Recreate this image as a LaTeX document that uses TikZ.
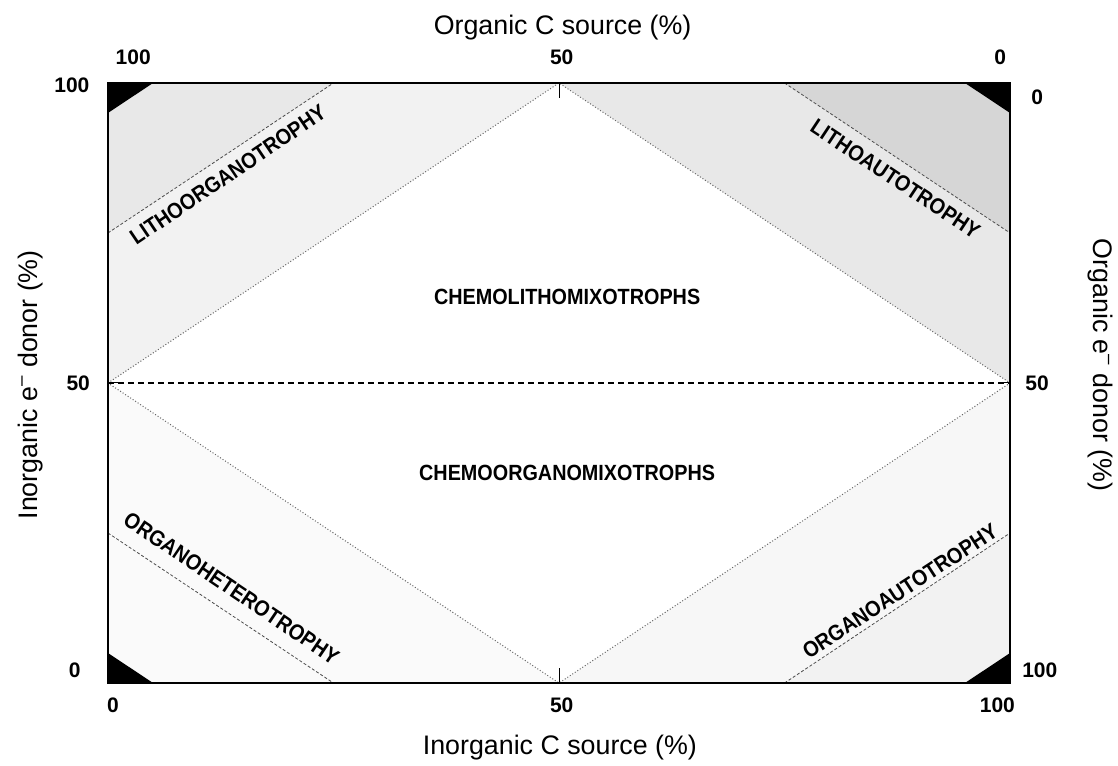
\documentclass[tikz,border=0pt]{standalone}
\usepackage{fontspec}
\setmainfont{Liberation Sans}
\usetikzlibrary{positioning}

\tikzset{
	axlabel/.style={font=\fontsize{13.4}{16}\selectfont},
	ticklabel/.style={font=\bfseries\fontsize{10.5}{12}\selectfont},
	zonelabel/.style={font=\bfseries\fontsize{11}{13}\selectfont, xscale=0.9, inner sep=1pt},
	diagline/.style={black!60, densely dotted, line width=0.5pt},
	stripline/.style={black!70, dash pattern=on 1.5pt off 1pt, line width=0.4pt},
}

\begin{document}
\begin{tikzpicture}[x=4.51pt, y=3pt]
	\useasboundingbox (-11.97,-13.67) rectangle (111.97,113.83);
	\fill[black!5] (0,50) -- (50,100) -- (0,100) -- cycle;
	\fill[black!9] (0,75) -- (25,100) -- (0,100) -- cycle;
	\fill[black!9] (50,100) -- (100,50) -- (100,100) -- cycle;
	\fill[black!16] (75,100) -- (100,75) -- (100,100) -- cycle;
	\fill[black!2] (0,50) -- (50,0) -- (0,0) -- cycle;
	\fill[black!3] (50,0) -- (100,50) -- (100,0) -- cycle;
	\fill[black!5] (75,0) -- (100,25) -- (100,0) -- cycle;
	\draw[diagline] (0,50) -- (50,100) -- (100,50) -- (50,0) -- cycle;
	\draw[stripline] (0,75) -- (25,100);
	\draw[stripline] (75,100) -- (100,75);
	\draw[stripline] (0,25) -- (25,0);
	\draw[stripline] (75,0) -- (100,25);
	\fill[black] (0,100) -- (5,100) -- (0,95) -- cycle;
	\fill[black] (100,100) -- (95,100) -- (100,95) -- cycle;
	\fill[black] (0,0) -- (5,0) -- (0,5) -- cycle;
	\fill[black] (100,0) -- (95,0) -- (100,5) -- cycle;
	\draw[line width=0.9pt, dash pattern=on 3pt off 2pt] (0,50) -- (100,50);
	\draw[line width=1pt] (0,0) rectangle (100,100);
	\draw[line width=0.5pt] (50,100) -- (50,97.5) (50,0) -- (50,2.5);
	\draw[line width=0.5pt] (0,50) -- (1.2,50) (100,50) -- (98.8,50);

	\node[axlabel] (toptitle) at (50.4,109.2) {Organic C source (\%)};
	\node[ticklabel] (top100) at (2.8,104.3) {100};
	\node[ticklabel] (top50) at (50.3,104.3) {50};
	\node[ticklabel] (top0) at (98.9,104.3) {0};
	\node[axlabel] (bottitle) at (50.1,-10.8) {Inorganic C source (\%)};
	\node[ticklabel] (bot0) at (0.55,-3.7) {0};
	\node[ticklabel] (bot50) at (50.3,-3.7) {50};
	\node[ticklabel] (bot100) at (98.6,-3.7) {100};
	\node[axlabel, rotate=90] (lefttitle) at (-8.6,49.7) {Inorganic e\textsuperscript{--} donor (\%)};
	\node[ticklabel] (left100) at (-4,99.7) {100};
	\node[ticklabel] (left50) at (-3.3,50) {50};
	\node[ticklabel] (left0) at (-3.7,2.2) {0};
	\node[axlabel, rotate=-90] (righttitle) at (110,53) {Organic e\textsuperscript{--} donor (\%)};
	\node[ticklabel] (right0) at (103,97.7) {0};
	\node[ticklabel] (right50) at (103,50) {50};
	\node[ticklabel] (right100) at (103.3,2.2) {100};

	\node[rotate=34, zonelabel] (litho) at (13.3,84.7) {LITHOORGANOTROPHY};
	\node[rotate=-33.5, zonelabel] (lithoauto) at (87.3,84) {LITHOAUTOTROPHY};
	\node[zonelabel] (chemlitho) at (50.9,64.3) {CHEMOLITHOMIXOTROPHS};
	\node[zonelabel] (chemorg) at (50.9,35) {CHEMOORGANOMIXOTROPHS};
	\node[rotate=-34, zonelabel] (orghetero) at (13.7,15.8) {ORGANOHETEROTROPHY};
	\node[rotate=33, zonelabel] (orgauto) at (87.8,15.3) {ORGANOAUTOTROPHY};
\end{tikzpicture}
\end{document}
